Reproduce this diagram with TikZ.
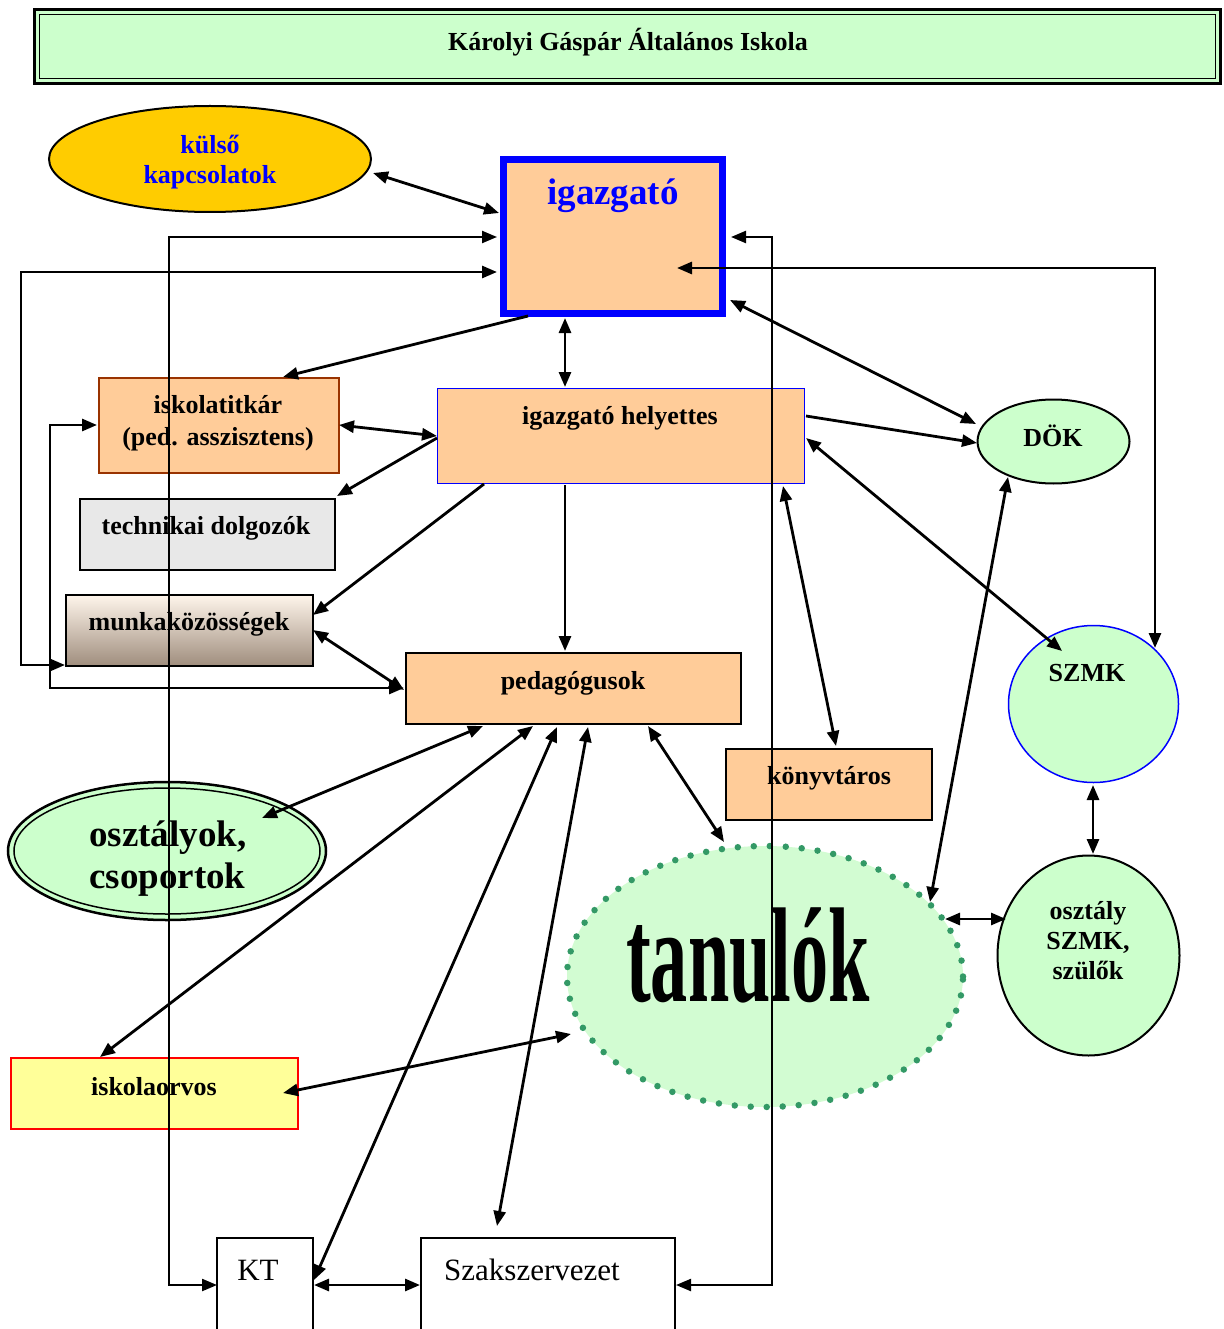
\documentclass[tikz,border=0pt]{standalone}
\usepackage{fontspec}
\setmainfont{Liberation Serif}
\usetikzlibrary{arrows.meta,calc,shapes.geometric}
\definecolor{cgreen}{HTML}{CCFFCC}
\definecolor{cpeach}{HTML}{FFCC99}
\definecolor{cgold}{HTML}{FFCC00}
\definecolor{cyell}{HTML}{FFFF99}
\definecolor{cgrey}{HTML}{E8E8E8}
\definecolor{cbrown}{HTML}{993300}
\definecolor{cdots}{HTML}{339966}
\definecolor{ctan}{HTML}{D2FCD2}
\definecolor{ctop}{HTML}{FFF6EC}
\definecolor{cbot}{HTML}{A08E7E}
\definecolor{cblue}{HTML}{0000FF}
\begin{document}
\begin{tikzpicture}[x=1pt,y=-1pt,
  >={Triangle[length=15pt,width=12pt]},
  lbl/.style={font=\fontsize{26}{30}\selectfont\bfseries, inner sep=0pt, align=center},
  big/.style={font=\fontsize{37}{42}\selectfont\bfseries, inner sep=0pt, align=left},
  reg/.style={font=\fontsize{31}{34}\selectfont, inner sep=0pt},
  box/.style={rectangle, draw=black, line width=2pt, inner sep=0pt, outer sep=0pt},
  ell/.style={ellipse, draw=black, line width=2pt, inner sep=0pt, outer sep=0pt},
  conn/.style={line width=2.8pt, draw=black},
  thinconn/.style={line width=2.3pt, draw=black}]
\clip (0,0) rectangle (1223,1329);
\fill[white] (0,0) rectangle (1223,1329);

% title
\node[box, line width=3.5pt, fill=cgreen, minimum width=1186pt, minimum height=74pt] (title) at (627.5,46.5) {};
\draw[line width=1.5pt] ($(title.north west)+(5,5)$) rectangle ($(title.south east)+(-5,-5)$);
\node[lbl] (titleT) at (628,42) {Károlyi Gáspár Általános Iskola};

% shapes
\node[ell, fill=cgold, minimum width=322pt, minimum height=106pt] (ext) at (210,159) {};
\node[lbl, text=cblue] (extT) at (210,162) {külső\\kapcsolatok};

\node[box, draw=cblue, line width=7pt, fill=cpeach, minimum width=219pt, minimum height=154pt] (igaz) at (613,236.5) {};
\node[inner sep=0pt, font=\fontsize{37}{40}\selectfont\bfseries, text=cblue] (igazT) at (613,196) {igazgató};

\node[box, draw=cblue, line width=1.5pt, fill=cpeach, minimum width=367pt, minimum height=95pt] (igh) at (621,436) {};
\node[lbl] (ighT) at (620,418) {igazgató helyettes};

\node[box, draw=cbrown, fill=cpeach, minimum width=240pt, minimum height=95pt] (tit) at (218.5,425) {};
\node[lbl, font=\fontsize{26}{32}\selectfont\bfseries] (titT) at (218,423) {iskolatitkár\\(ped. asszisztens)};

\node[box, fill=cgrey, minimum width=255pt, minimum height=71pt] (tech) at (207,534) {};
\node[lbl] (techT) at (206,528) {technikai dolgozók};

\node[box, top color=ctop, bottom color=cbot, minimum width=247pt, minimum height=71pt] (munka) at (189,630) {};
\node[lbl] (munkaT) at (189,624) {munkaközösségek};

\node[box, fill=cpeach, minimum width=335pt, minimum height=71pt] (ped) at (573,688) {};
\node[lbl] (pedT) at (573,683) {pedagógusok};

\node[box, fill=cpeach, minimum width=206pt, minimum height=71pt] (konyv) at (828.5,784) {};
\node[lbl] (konyvT) at (829,778) {könyvtáros};

\node[box, draw=red, fill=cyell, minimum width=287pt, minimum height=71pt] (orvos) at (154,1093) {};
\node[lbl] (orvosT) at (154,1087) {iskolaorvos};

\node[box, fill=white, minimum width=96pt, minimum height=102pt] (KT) at (265,1289) {};
\node[reg] (KTT) at (258,1270) {KT};

\node[box, fill=white, minimum width=254pt, minimum height=102pt] (szak) at (548,1289) {};
\node[reg] (szakT) at (532,1270) {Szakszervezet};

\node[ell, fill=cgreen, minimum width=152pt, minimum height=84pt] (dok) at (1053.5,441.5) {};
\node[lbl] (dokT) at (1053,436) {DÖK};

\node[ell, draw=cblue, line width=1.5pt, fill=cgreen, minimum width=170pt, minimum height=157pt] (szmk) at (1093.5,704) {};
\node[lbl] (szmkT) at (1087,673) {SZMK};

\node[ell, fill=cgreen, minimum width=182pt, minimum height=200pt] (oszt) at (1088.5,955.5) {};
\node[lbl] (osztT) at (1088,941) {osztály\\SZMK,\\szülők};

\node[ell, line width=2.5pt, fill=cgreen, minimum width=318pt, minimum height=138pt] (osztcs) at (167,851) {};
\draw[line width=1.5pt] (osztcs) ellipse [x radius=153pt, y radius=63pt];
\node[big, anchor=west] (osztcsT) at (89,859) {osztályok,\\csoportok};

\node[ellipse, fill=ctan, draw=cdots, line width=6.5pt, dash pattern=on 0pt off 16pt, line cap=round, inner sep=0pt, minimum width=396pt, minimum height=261pt] (tan) at (765,976.5) {};
\node[inner sep=0pt] (tanT) at (748,955) {\scalebox{0.55}[1]{\fontsize{135}{135}\selectfont\bfseries tanulók}};

% connectors
\draw[conn,<->] ($(ext)+(163,14)$) -- ($(igaz)+(-114,-23.5)$);
\draw[thinconn,<->] ($(igaz)+(-116,0.5)$) -- (169,237) -- (169,1285) -- ($(KT)+(-48,-4)$);
\draw[conn,<->] ($(igaz)+(-116,35.5)$) -- (21,272) -- (21,665) -- ($(munka)+(-124,35)$);
\draw[conn,<->] ($(tit)+(-121.5,0)$) -- (50,425) -- (50,688) -- ($(ped)+(-169,0)$);
\draw[conn,->] ($(igaz)+(-85,79.5)$) -- ($(tit)+(64.5,-48)$);
\draw[conn,<->] ($(igaz)+(-48,81.5)$) -- ($(igh)+(-56,-49)$);
\draw[conn,<->] ($(tit)+(120.5,0)$) -- ($(igh)+(-184,0)$);
\draw[conn,->] ($(igh)+(-184,2)$) -- ($(tech)+(130,-38)$);
\draw[conn,->] ($(igh)+(-137,48)$) -- ($(munka)+(124,-15)$);
\draw[conn,->] ($(igh)+(-56,49)$) -- ($(ped)+(-8,-37)$);
\draw[conn,<->] ($(munka)+(124,0)$) -- ($(ped)+(-169,2)$);
\draw[conn,->] ($(igh)+(185,-20)$) -- ($(dok)+(-76.5,1.5)$);
\draw[conn,<->] ($(igaz)+(117,63.5)$) -- ($(dok)+(-77.5,-17.5)$);
\draw[conn,<->] ($(igh)+(185,2)$) -- ($(szmk)+(-31.5,-53)$);
\draw[conn,<->] ($(igaz)+(64,31.5)$) -- (1155,268) -- ($(szmk)+(61.5,-56)$);
\draw[conn,<->] ($(igh)+(162,50)$) -- ($(konyv)+(7.5,-38)$);
\draw[conn,<->] ($(dok)+(-45.5,35.5)$) -- ($(tan)+(165,-74.5)$);
\draw[conn,<->] ($(szmk)+(-0.5,81)$) -- ($(oszt)+(4.5,-101.5)$);
\draw[conn,<->] ($(tan)+(180,-57.5)$) -- ($(oszt)+(-82.5,-36.5)$);
\draw[thinconn,<->] ($(igaz)+(118,0.5)$) -- (772,237) -- (772,1285) -- ($(szak)+(128,-4)$);
\draw[conn,<->] ($(KT)+(49,-4)$) -- ($(szak)+(-128,-4)$);
\draw[conn,<->] ($(ped)+(-90,38)$) -- ($(osztcs)+(95,-33)$);
\draw[conn,<->] ($(ped)+(-40,38)$) -- ($(orvos)+(-54,-36)$);
\draw[conn,<->] ($(ped)+(-16,39)$) -- ($(KT)+(49,-9)$);
\draw[conn,<->] ($(ped)+(15,39)$) -- ($(szak)+(-51,-63)$);
\draw[conn,<->] ($(ped)+(75,38)$) -- ($(tan)+(-41,-134.5)$);
\draw[conn,<->] ($(orvos)+(129,0)$) -- ($(tan)+(-194,57.5)$);
\end{tikzpicture}
\end{document}
